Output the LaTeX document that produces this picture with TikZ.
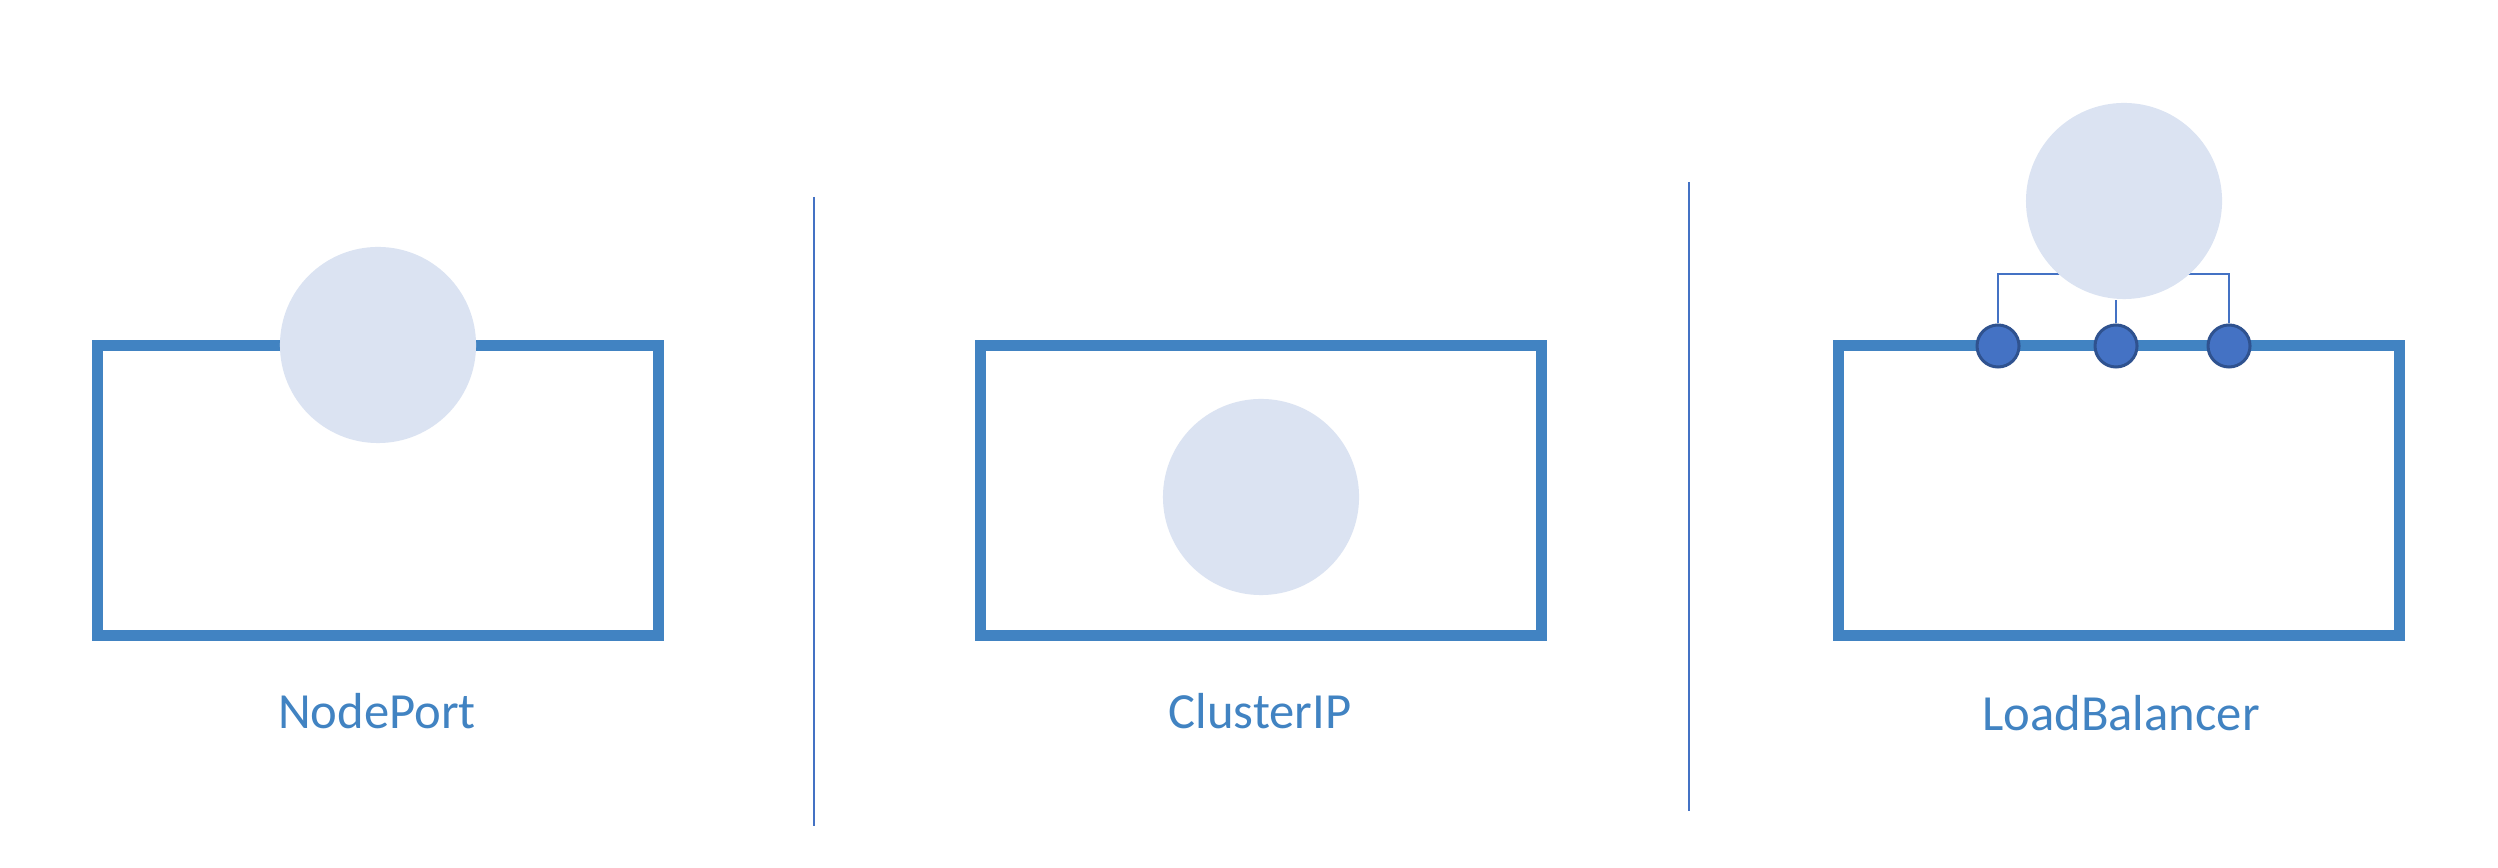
\documentclass[tikz,border=0pt]{standalone}
\usepackage{fontspec}
\setmainfont{Carlito}
\usetikzlibrary{backgrounds}
\definecolor{boxblue}{RGB}{65,131,194}
\definecolor{podfill}{RGB}{219,227,242}
\definecolor{lineblue}{RGB}{68,114,196}
\definecolor{dotborder}{RGB}{47,82,143}
\tikzset{
  svcbox/.style={draw=boxblue, line width=0.11cm, fill=white},
  pod/.style={circle, fill=podfill, minimum size=1.96cm, inner sep=0pt},
  dot/.style={circle, fill=lineblue, draw=dotborder, line width=0.03cm, minimum size=0.42cm, inner sep=0pt},
  divider/.style={draw=lineblue, line width=0.02cm},
  wire/.style={draw=lineblue, line width=0.02cm},
  lbl/.style={text=boxblue, font=\fontsize{14.4pt}{17pt}\selectfont, anchor=base, inner sep=0pt}
}
\begin{document}
\begin{tikzpicture}[x=0.01cm,y=-0.01cm]
\useasboundingbox (0,0) rectangle (2498,868);
% boxes
\draw[svcbox] (97.5,345.5) rectangle (658.5,635.5);
\draw[svcbox] (980.5,345.5) rectangle (1541.5,635.5);
\draw[svcbox] (1838,345.5) rectangle (2399,635.5);
% dividers
\coordinate (d1t) at (814,197);
\coordinate (d1b) at (814,826);
\coordinate (d2t) at (1689,182);
\coordinate (d2b) at (1689,811);
\draw[divider] (d1t) -- (d1b);
\draw[divider] (d2t) -- (d2b);
% pods
\node[pod] (np) at (378,345) {};
\node[pod] (cip) at (1261,497) {};
\node[pod] (lb) at (2124,201) {};
% load balancer dots
\node[dot] (s1) at (1998,346) {};
\node[dot] (s2) at (2116,346) {};
\node[dot] (s3) at (2229,346) {};
\coordinate (bar) at (2116,274);
\begin{scope}[on background layer]
\draw[wire] (s1.north) |- (bar) -| (s3.north);
\draw[wire] (s2.north) -- (s2.north |- lb.south);
\end{scope}
% labels
\node[lbl] (t1) at (377,729) {NodePort};
\node[lbl] (t2) at (1260,729) {ClusterIP};
\node[lbl] (t3) at (2121,731) {LoadBalancer};
\end{tikzpicture}
\end{document}
